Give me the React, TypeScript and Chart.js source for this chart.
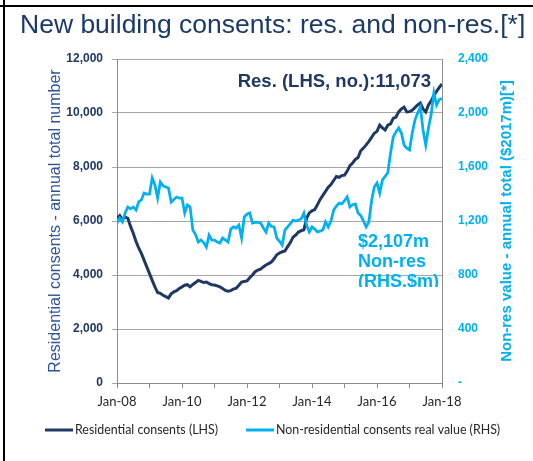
import React, { useEffect, useRef } from 'react';
import { Chart, registerables } from 'chart.js';

Chart.register(...registerables);

// ---- Data (monthly, Jan-08 .. Jan-18) ----
const xTickLabels = ['Jan-08', 'Jan-10', 'Jan-12', 'Jan-14', 'Jan-16', 'Jan-18'];

// Residential consents - annual total number (LHS)
const residential = [
  6100, 6200, 6050, 6150, 6100, 5800, 5550, 5250, 5000, 4800,
  4550, 4300, 4050, 3800, 3560, 3350, 3320, 3250, 3200, 3150,
  3300, 3380, 3420, 3500, 3560, 3620, 3640, 3560, 3650, 3720,
  3800, 3760, 3720, 3740, 3680, 3640, 3630, 3600, 3560, 3500,
  3430, 3400, 3420, 3480, 3510, 3620, 3740, 3760, 3780, 3900,
  4000, 4120, 4185, 4220, 4300, 4370, 4420, 4480, 4600, 4750,
  4815, 4860, 4890, 5050, 5200, 5400, 5480, 5590, 5640, 5670,
  6100, 6300, 6380, 6420, 6600, 6800, 6950, 7100, 7250, 7350,
  7500, 7650, 7620, 7680, 7700, 7850, 8050, 8150, 8280, 8350,
  8600, 8700, 8820, 8950, 9100, 9250, 9320, 9550, 9450, 9370,
  9550, 9600, 9800, 9850, 10040, 10150, 10220, 10040, 10050, 10100,
  10200, 10300, 10370, 10150, 10040, 10300, 10450, 10650, 10800, 10950,
  11073,
];

// Non-residential consents real value, annual total $2017m (RHS)
const nonResidential = [
  1185, 1222, 1193, 1259, 1304, 1290, 1304, 1281, 1341, 1356,
  1407, 1400, 1400, 1519, 1467, 1370, 1489, 1460, 1452, 1444,
  1341, 1360, 1378, 1370, 1370, 1259, 1319, 1304, 1133, 1100,
  1044, 1059, 1040, 1007, 1096, 1059, 1059, 1044, 1037, 1074,
  1060, 1044, 1140, 1156, 1148, 1170, 1074, 1230, 1250, 1259,
  1185, 1190, 1190, 1185, 1150, 1119, 1185, 1160, 1156, 1074,
  1050, 1022, 1133, 1156, 1180, 1207, 1200, 1207, 1215, 1259,
  1170, 1119, 1156, 1140, 1119, 1125, 1133, 1193, 1156, 1200,
  1281, 1310, 1333, 1326, 1350, 1378, 1304, 1320, 1326, 1259,
  1240, 1200, 1156, 1193, 1350, 1452, 1481, 1407, 1504, 1530,
  1560, 1704, 1822, 1860, 1889, 1852, 1763, 1740, 1726, 1850,
  1948, 2000, 2044, 1874, 1763, 1889, 1990, 2148, 2059, 2100,
  2107,
];

const titleText = 'New building consents: res. and non-res.[*]';
const leftAxisTitle = 'Residential consents - annual total number';
const rightAxisTitle = 'Non-res value - annual total ($2017m)[*]';
const resNote = 'Res. (LHS, no.):11,073';
const nonResNote = ['$2,107m', 'Non-res', '(RHS,$m)'];
const legendLabels = ['Residential consents (LHS)', 'Non-residential consents real value (RHS)'];

// ---- Styles ----
const NAVY = '#1F3864';
const CYAN = '#00B0F0';
const STEEL = '#2F5597';
const GRID = '#A6A6A6';
const AXIS = '#8C8C8C';
const TEXT = '#262626';
const SANS = '"Liberation Sans", Arial, sans-serif';
const LABEL = 'Lato, "Liberation Sans", sans-serif';

const overlayPlugin = {
  id: 'overlay',
  afterDraw(chart: any) {
    const ctx = chart.ctx as CanvasRenderingContext2D;
    ctx.save();
    // frame lines
    ctx.fillStyle = '#000000';
    ctx.fillRect(3, 0, 2, 461);
    ctx.fillRect(0, 5, 533, 2);

    // title
    ctx.fillStyle = '#1B3A68';
    ctx.font = `26.5px ${SANS}`;
    ctx.textAlign = 'left';
    ctx.textBaseline = 'alphabetic';
    ctx.fillText(titleText, 20, 33);

    // right axis title (reads bottom to top)
    ctx.save();
    ctx.translate(507, 221);
    ctx.rotate(-Math.PI / 2);
    ctx.textAlign = 'center';
    ctx.textBaseline = 'middle';
    ctx.font = `bold 15px ${SANS}`;
    ctx.fillStyle = CYAN;
    ctx.fillText(rightAxisTitle, 0, 0);
    ctx.restore();

    // annotations
    ctx.font = `bold 18.5px ${SANS}`;
    ctx.fillStyle = NAVY;
    ctx.textAlign = 'right';
    ctx.fillText(resNote, 431, 87);

    ctx.save();
    ctx.beginPath();
    ctx.rect(0, 0, 533, 287);
    ctx.clip();
    ctx.font = `bold 18px ${SANS}`;
    ctx.fillStyle = CYAN;
    ctx.textAlign = 'left';
    nonResNote.forEach((t, i) => ctx.fillText(t, 358, 247 + i * 20));
    ctx.restore();

    // legend
    ctx.lineWidth = 3;
    ctx.strokeStyle = NAVY;
    ctx.beginPath();
    ctx.moveTo(45, 430);
    ctx.lineTo(73, 430);
    ctx.stroke();
    ctx.strokeStyle = CYAN;
    ctx.beginPath();
    ctx.moveTo(246, 430);
    ctx.lineTo(274, 430);
    ctx.stroke();
    ctx.fillStyle = TEXT;
    ctx.font = `12.4px ${LABEL}`;
    ctx.textAlign = 'left';
    ctx.textBaseline = 'middle';
    ctx.fillText(legendLabels[0], 75, 430);
    ctx.fillText(legendLabels[1], 276, 430);
    ctx.restore();
  },
};

export default function App() {
  const ref = useRef<HTMLCanvasElement | null>(null);

  useEffect(() => {
    if (!ref.current) return;
    const chart = new Chart(ref.current, {
      type: 'line',
      data: {
        datasets: [
          {
            label: legendLabels[0],
            data: residential.map((v, i) => ({ x: i, y: v })),
            borderColor: NAVY,
            backgroundColor: NAVY,
            borderWidth: 3,
            pointRadius: 0,
            tension: 0,
            yAxisID: 'y',
            order: 1,
          },
          {
            label: legendLabels[1],
            data: nonResidential.map((v, i) => ({ x: i, y: v })),
            borderColor: CYAN,
            backgroundColor: CYAN,
            borderWidth: 2.75,
            pointRadius: 0,
            tension: 0,
            yAxisID: 'y1',
            order: 0,
          },
        ],
      },
      options: {
        responsive: false,
        animation: false,
        layout: { padding: { top: 59, left: 0, right: 0, bottom: 0 } },
        plugins: {
          legend: { display: false },
          tooltip: { enabled: false },
          title: { display: false },
        },
        scales: {
          x: {
            type: 'linear',
            min: 0,
            max: 120,
            ticks: {
              stepSize: 12,
              autoSkip: false,
              maxRotation: 0,
              padding: 6,
              color: TEXT,
              font: { family: LABEL, size: 13 },
              callback: (v: any) => (v % 24 === 0 ? xTickLabels[v / 24] : ''),
            },
            grid: { drawOnChartArea: false, tickLength: 5, color: AXIS },
            border: { color: AXIS },
            afterFit: (s: any) => {
              s.height = 78;
            },
          },
          y: {
            position: 'left',
            min: 0,
            max: 12000,
            ticks: {
              stepSize: 2000,
              padding: 9,
              color: NAVY,
              font: { family: SANS, size: 12, weight: 'bold' },
              callback: (v: any) => Number(v).toLocaleString('en-US'),
            },
            grid: { color: GRID, tickLength: 5 },
            border: { color: AXIS },
            title: {
              display: true,
              text: leftAxisTitle,
              color: STEEL,
              font: { family: SANS, size: 16 },
              padding: { top: 46, bottom: 0 },
            },
            afterFit: (s: any) => {
              s.width = 117;
            },
          },
          y1: {
            position: 'right',
            min: 0,
            max: 2400,
            ticks: {
              stepSize: 400,
              padding: 16,
              color: CYAN,
              font: { family: SANS, size: 12, weight: 'bold' },
              callback: (v: any) => (Number(v) === 0 ? '-' : Number(v).toLocaleString('en-US')),
            },
            grid: { drawOnChartArea: false, drawTicks: false },
            border: { color: AXIS },
            afterFit: (s: any) => {
              s.width = 91;
            },
          },
        },
      },
      plugins: [overlayPlugin],
    } as any);
    return () => chart.destroy();
  }, []);

  return (
    <div style={{ position: 'fixed', left: 0, top: 0, width: 533, height: 461, background: '#ffffff' }}>
      <canvas ref={ref} width={533} height={461} style={{ display: 'block' }} />
    </div>
  );
}
